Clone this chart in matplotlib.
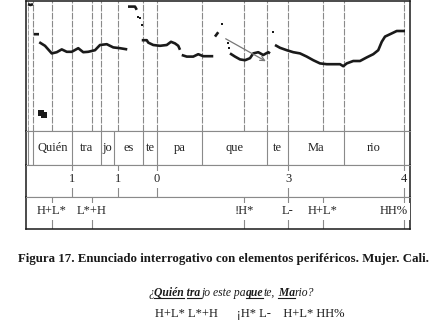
import matplotlib.pyplot as plt
import numpy as np
from matplotlib.lines import Line2D

##########################################
#Data: time in s, F0 in Hz (NaN breaks the contour)
f0_time = [0.008, 0.018, 0.028, np.nan,
           0.032, 0.052, np.nan,
           0.053, 0.076, 0.103, 0.123, 0.143, 0.163, 0.183, 0.209, 0.229, 0.249, 0.276, 0.296, 0.323, 0.349, 0.376, 0.405, np.nan,
           0.408, 0.436, 0.443, np.nan,
           0.463, 0.483, 0.489, 0.509, 0.536, 0.563, 0.580, 0.596, 0.609, 0.616, np.nan,
           0.623, 0.643, 0.669, 0.689, 0.709, 0.729, 0.749, np.nan,
           0.756, 0.769, np.nan,
           0.816, 0.836, 0.856, 0.876, 0.896, 0.909, 0.929, 0.949, 0.969, 0.976, np.nan,
           0.996, 1.016, 1.043, 1.069, 1.096, 1.123, 1.149, 1.176, 1.203, 1.229, 1.256, 1.269, 1.283, 1.309, 1.336, 1.363, 1.389, 1.409, 1.423, 1.436, 1.463, 1.483, 1.516]
f0_hz = [392, 390, 392, np.nan,
         317, 317, np.nan,
         297, 288, 269, 272, 279, 273, 273, 282, 272, 273, 277, 290, 292, 284, 282, 279, np.nan,
         386, 386, 378, np.nan,
         302, 302, 296, 290, 288, 290, 298, 294, 288, 278, np.nan,
         265, 261, 261, 267, 262, 262, 262, np.nan,
         311, 322, np.nan,
         269, 261, 254, 252, 257, 269, 272, 265, 272, 269, np.nan,
         290, 283, 277, 272, 269, 261, 252, 244, 242, 242, 242, 237, 244, 250, 250, 259, 267, 277, 298, 311, 319, 325, 325]

dot_time = [0.449, 0.456, 0.463, 0.784, 0.809, 0.811, 0.989]
dot_hz = [361, 357, 340, 342, 294, 282, 323]

blob_time = [0.061, 0.071]
blob_hz = [120, 114]

arrow_start = (0.789, 309)
arrow_end = (0.969, 246)

syl_bounds = [0.008, 0.028, 0.184, 0.300, 0.352, 0.468, 0.524, 0.704, 0.964, 1.048, 1.272, 1.512]
syl_labels = ['', 'Quién', 'tra', 'jo', 'es', 'te', 'pa', 'que', 'te', 'Ma', 'rio']

break_times = [0.184, 0.368, 0.524, 1.048, 1.512]
break_labels = ['1', '1', '0', '3', '4']

tone_times = [0.104, 0.264, 0.872, 1.048, 1.188, 1.512]
tone_labels = ['H+L*', 'L*+H', '!H*', 'L-', 'H+L*', 'HH%']

caption = 'Figura 17. Enunciado interrogativo con elementos periféricos. Mujer. Cali.'
sentence_parts = [('¿', None), ('Quién tra', ['Quién', 'tra']), ('jo este pa', None), ('que', ['que']),
                  ('te,', None), (' Ma', ['Ma']), ('rio?', None)]
tones_line = 'H+L* L*+H      ¡H* L-    H+L* HH%'

##########################################
#Style
W, H = 436, 325
serif = 'Liberation Serif'
grey = '#8a8a8a'
ink = '#1a1a1a'
tmin, tmax = 0, 1.536

fig = plt.figure(figsize=[W / 100, H / 100], dpi=100)

def px_axes(x0, y0, x1, y1):
    return fig.add_axes([x0 / W, 1 - y1 / H, (x1 - x0) / W, (y1 - y0) / H])

ax_f0 = px_axes(26, 1, 410, 131)
ax_syl = px_axes(26, 131, 410, 165)
ax_brk = px_axes(26, 165, 410, 197)
ax_ton = px_axes(26, 197, 410, 229)

for ax in [ax_f0, ax_syl, ax_brk, ax_ton]:
    ax.set_xlim(tmin, tmax)
    ax.set_xticks([])
    ax.set_yticks([])
    for s in ['left', 'right']:
        ax.spines[s].set_color(ink)
        ax.spines[s].set_linewidth(1.1)
    for s in ['top', 'bottom']:
        ax.spines[s].set_color(grey)
        ax.spines[s].set_linewidth(0.8)
ax_f0.spines['top'].set_color(ink)
ax_f0.spines['top'].set_linewidth(1.1)
ax_ton.spines['bottom'].set_color(ink)
ax_ton.spines['bottom'].set_linewidth(1.1)

#Pitch panel: boundaries of all tiers (syllable edges close to a break point are merged)
ax_f0.set_ylim(75, 400)
pitch_lines = set(break_times) | set(tone_times)
for t in syl_bounds[1:]:
    if min(abs(t - b) for b in break_times) > 0.02:
        pitch_lines.add(t)
for t in sorted(pitch_lines):
    ax_f0.axvline(t, color=grey, lw=0.8, dashes=(6, 1.2), zorder=1)
ax_f0.axvline(syl_bounds[0], color=grey, lw=0.6, dashes=(6, 1.2), zorder=1)
ax_f0.plot(f0_time, f0_hz, color=ink, lw=1.9, solid_capstyle='butt', zorder=3)
ax_f0.plot(dot_time, dot_hz, ls='none', marker='s', ms=1.5, mew=0, color=ink, zorder=3)
ax_f0.plot(blob_time, blob_hz, ls='none', marker='s', ms=4.2, mew=0, color=ink, zorder=3)
ax_f0.annotate('', xy=arrow_end, xytext=arrow_start,
               arrowprops=dict(arrowstyle='->', color='#777777', lw=0.9, mutation_scale=8), zorder=4)

#Syllable tier
ax_syl.set_ylim(0, 1)
for t in syl_bounds:
    ax_syl.axvline(t, color=grey, lw=0.8)
for i, lab in enumerate(syl_labels):
    ax_syl.text((syl_bounds[i] + syl_bounds[i + 1]) / 2, 0.5, lab, ha='center', va='center',
                fontsize=9, family=serif, color='#222222')

#Break index tier
ax_brk.set_ylim(0, 1)
for t, lab in zip(break_times, break_labels):
    ax_brk.axvline(t, color=grey, lw=0.8)
    ax_brk.text(t, 0.55, lab, ha='center', va='center', fontsize=9, family=serif, color='#222222',
                bbox=dict(fc='white', ec='none', pad=1.5))

#Tone tier
ax_ton.set_ylim(0, 1)
for t, lab in zip(tone_times, tone_labels):
    ax_ton.axvline(t, color=grey, lw=0.8)
    if lab == 'HH%':
        ax_ton.text(t + 0.014, 0.55, lab, ha='right', va='center', fontsize=9, family=serif, color='#222222',
                    bbox=dict(fc='white', ec='none', pad=1.5))
    else:
        ax_ton.text(t, 0.55, lab, ha='center', va='center', fontsize=9, family=serif, color='#222222',
                    bbox=dict(fc='white', ec='none', pad=1.5))

#Caption
fig.text(223 / W, 1 - 259 / H, caption, ha='center', va='center', fontsize=9.3, family=serif,
         fontweight='bold', color=ink)

#Example sentence, built piece by piece for bold/underline parts
renderer = fig.canvas.get_renderer()
fs = 8.4
x = 148
y = 1 - 296 / H

def text_width(s):
    tmp = fig.text(0, 0, s, fontsize=fs, family=serif, fontstyle='italic', fontweight='bold')
    w = tmp.get_window_extent(renderer).width
    tmp.remove()
    return w

for piece, under in sentence_parts:
    weight = 'bold' if under else 'normal'
    txt = fig.text(x / W, y, piece, ha='left', va='baseline', fontsize=fs, family=serif,
                   fontstyle='italic', fontweight=weight, color=ink)
    bb = txt.get_window_extent(renderer)
    if under:
        if len(under) == 1:
            spans = [(bb.x1 - text_width(under[0]), bb.x1)]
        else:
            spans = [(bb.x0, bb.x0 + text_width(under[0])), (bb.x1 - text_width(under[1]), bb.x1)]
        for a, b in spans:
            fig.add_artist(Line2D([a / W, b / W], [y - 2.2 / H, y - 2.2 / H], color=ink, lw=0.8))
    x = bb.x1 + 0.4

fig.text(155 / W, 1 - 317 / H, tones_line, ha='left', va='baseline', fontsize=9, family=serif,
         color=ink)

plt.savefig('out.png', dpi=100)
